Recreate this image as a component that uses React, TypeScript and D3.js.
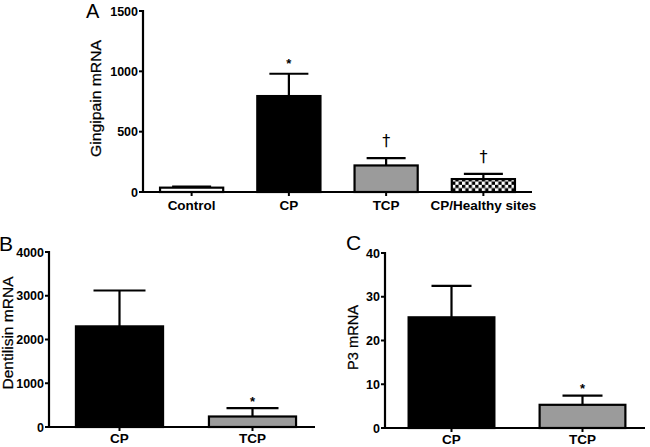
import React from "react";
import * as d3 from "d3";

// Panel A – Gingipain
const gingipainCategories = ["Control", "CP", "TCP", "CP/Healthy sites"];
const gingipainMeans = [36, 795, 220, 107];
const gingipainErr = [8, 185, 60, 43];
const gingipainTicks = [0, 500, 1000, 1500];
const gingipainMarks = ["", "*", "†", "†"];
const gingipainFills = ["white", "black", "gray", "check"];

// Panel B – Dentilisin
const dentilisinCategories = ["CP", "TCP"];
const dentilisinMeans = [2300, 240];
const dentilisinErr = [820, 190];
const dentilisinTicks = [0, 1000, 2000, 3000, 4000];
const dentilisinMarks = ["", "*"];
const dentilisinFills = ["black", "gray"];

// Panel C – P3
const p3Categories = ["CP", "TCP"];
const p3Means = [25.3, 5.3];
const p3Err = [7.2, 2.1];
const p3Ticks = [0, 10, 20, 30, 40];
const p3Marks = ["", "*"];
const p3Fills = ["black", "gray"];

const FONT = "'Liberation Sans', Arial, Helvetica, sans-serif";
const GRAY = "#9b9b9b";

type PanelProps = {
  letter: string;
  letterX: number;
  letterY: number;
  letterSize: number;
  ylabel: string;
  ylabelX: number;
  ylabelY: number;
  ylabelLen: number;
  categories: string[];
  means: number[];
  errs: number[];
  ticks: number[];
  marks: string[];
  fills: string[];
  axisX: number;
  axisEnd: number;
  bandRange: [number, number];
  y0: number;
  yTop: number;
  capW: number;
  labelBaseline: number;
  markGap: number;
};

function Panel(p: PanelProps) {
  const yMax = p.ticks[p.ticks.length - 1];
  const y = d3.scaleLinear().domain([0, yMax]).range([p.y0, p.yTop]);
  const x = d3
    .scaleBand<string>()
    .domain(p.categories)
    .range(p.bandRange)
    .paddingInner(0.33)
    .paddingOuter(0.165);
  const bw = x.bandwidth();
  return (
    <g>
      <text x={p.letterX} y={p.letterY} fontSize={p.letterSize} fontFamily={FONT} fill="black">
        {p.letter}
      </text>
      <text
        transform={`translate(${p.ylabelX},${p.ylabelY}) rotate(-90)`}
        textAnchor="middle"
        fontSize={15.5}
        fontFamily={FONT}
        fill="black"
        stroke="black"
        strokeWidth={0.25}
        textLength={p.ylabelLen}
        lengthAdjust="spacingAndGlyphs"
      >
        {p.ylabel}
      </text>
      {/* bars */}
      {p.categories.map((c, i) => {
        const x0 = x(c)!;
        const cx = x0 + bw / 2;
        const top = y(p.means[i]);
        const et = y(p.means[i] + p.errs[i]);
        const f = p.fills[i];
        const fill = f === "check" ? "url(#checker)" : f === "gray" ? GRAY : f;
        const isDagger = p.marks[i] === "†";
        return (
          <g key={c}>
            <line x1={cx} x2={cx} y1={top} y2={et} stroke="black" strokeWidth={2.2} />
            <line x1={cx - p.capW / 2} x2={cx + p.capW / 2} y1={et} y2={et} stroke="black" strokeWidth={2.2} />
            <rect
              x={x0 + 1}
              y={top}
              width={bw - 2}
              height={p.y0 - top}
              fill={fill}
              stroke="black"
              strokeWidth={2.2}
            />
            {p.marks[i] && (
              <text
                x={cx}
                y={isDagger ? et - 12 : et - p.markGap + 7}
                textAnchor="middle"
                fontSize={isDagger ? 16 : 13}
                fontWeight={isDagger ? "normal" : "bold"}
                fontFamily={isDagger ? "'DejaVu Sans', sans-serif" : FONT}
                fill="black"
              >
                {p.marks[i]}
              </text>
            )}
            <line x1={cx} x2={cx} y1={p.y0} y2={p.y0 + 4} stroke="black" strokeWidth={2} />
            <text
              x={cx}
              y={p.labelBaseline}
              textAnchor="middle"
              fontSize={13.5}
              fontWeight="bold"
              fontFamily={FONT}
              fill="black"
            >
              {c}
            </text>
          </g>
        );
      })}
      {/* y axis */}
      <line x1={p.axisX} x2={p.axisX} y1={y(yMax) - 1} y2={p.y0 + 1} stroke="black" strokeWidth={2.2} />
      {p.ticks.map((t) => (
        <g key={t}>
          <line x1={p.axisX - 4} x2={p.axisX} y1={y(t)} y2={y(t)} stroke="black" strokeWidth={2} />
          <text
            x={p.axisX - 5}
            y={y(t)}
            dy="0.36em"
            textAnchor="end"
            fontSize={12.5}
            fontWeight="bold"
            fontFamily={FONT}
            fill="black"
          >
            {t}
          </text>
        </g>
      ))}
      {/* x axis */}
      <line x1={p.axisX - 1} x2={p.axisEnd} y1={p.y0} y2={p.y0} stroke="black" strokeWidth={2.2} />
    </g>
  );
}

export default function App() {
  return (
    <svg
      width={650}
      height={447}
      style={{ position: "absolute", left: 0, top: 0, background: "white" }}
    >
      <defs>
        <pattern id="checker" patternUnits="userSpaceOnUse" width={6.6} height={6.6}>
          <rect width={6.6} height={6.6} fill="white" />
          <rect width={3.3} height={3.3} fill="black" />
          <rect x={3.3} y={3.3} width={3.3} height={3.3} fill="black" />
        </pattern>
      </defs>
      <Panel
        letter="A"
        letterX={86}
        letterY={17.5}
        letterSize={20}
        ylabel="Gingipain mRNA"
        ylabelX={101}
        ylabelY={98.5}
        ylabelLen={117}
        categories={gingipainCategories}
        means={gingipainMeans}
        errs={gingipainErr}
        ticks={gingipainTicks}
        marks={gingipainMarks}
        fills={gingipainFills}
        axisX={143}
        axisEnd={532}
        bandRange={[143, 532]}
        y0={192}
        yTop={11}
        capW={39}
        labelBaseline={210}
        markGap={13}
      />
      <Panel
        letter="B"
        letterX={-1}
        letterY={251}
        letterSize={21}
        ylabel="Dentilisin mRNA"
        ylabelX={13}
        ylabelY={333}
        ylabelLen={113}
        categories={dentilisinCategories}
        means={dentilisinMeans}
        errs={dentilisinErr}
        ticks={dentilisinTicks}
        marks={dentilisinMarks}
        fills={dentilisinFills}
        axisX={49}
        axisEnd={315}
        bandRange={[53, 319]}
        y0={427}
        yTop={252}
        capW={52}
        labelBaseline={443}
        markGap={9}
      />
      <Panel
        letter="C"
        letterX={346}
        letterY={250}
        letterSize={21}
        ylabel="P3 mRNA"
        ylabelX={358}
        ylabelY={337.5}
        ylabelLen={65}
        categories={p3Categories}
        means={p3Means}
        errs={p3Err}
        ticks={p3Ticks}
        marks={p3Marks}
        fills={p3Fills}
        axisX={385}
        axisEnd={645}
        bandRange={[386, 648]}
        y0={428}
        yTop={253}
        capW={40}
        labelBaseline={444}
        markGap={10}
      />
    </svg>
  );
}
